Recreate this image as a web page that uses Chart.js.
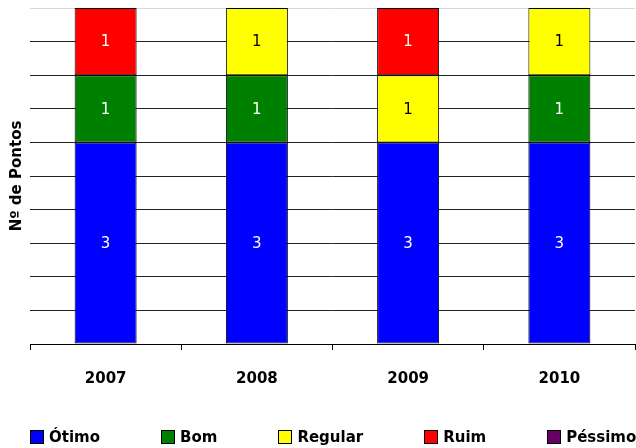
<!DOCTYPE html>
<html>
<head>
<meta charset="utf-8">
<script src="https://cdn.jsdelivr.net/npm/chart.js@4/dist/chart.umd.min.js"></script>
<style>
  html, body { margin: 0; padding: 0; background: #fff; }
  #wrap { position: relative; width: 636px; height: 448px; }
  #legend {
    position: absolute; left: 30px; top: 427px; height: 20px;
    display: flex; align-items: center;
    font: bold 15px "DejaVu Sans", sans-serif; color: #000; white-space: nowrap;
  }
  #legend .item { display: flex; align-items: center; margin-right: 61px; }
  #legend .box { width: 12px; height: 12px; border: 1px solid #000; margin-right: 5px; }
</style>
</head>
<body>
<div id="wrap">
  <canvas id="chart" width="636" height="448"></canvas>
  <div id="legend"></div>
</div>
<script>
const years = ['2007', '2008', '2009', '2010'];
const otimo = [3, 3, 3, 3];
const bom = [1, 1, 0, 1];
const regular = [0, 1, 1, 1];
const ruim = [1, 0, 1, 0];
const pessimo = [0, 0, 0, 0];

const FONT = '"DejaVu Sans", sans-serif';

// draws the value in the middle of each segment
const barLabels = {
    id: 'barLabels',
    afterDatasetsDraw(chart) {
        const ctx = chart.ctx;
        ctx.save();
        ctx.font = '15px ' + FONT;
        ctx.textAlign = 'center';
        ctx.textBaseline = 'middle';
        chart.data.datasets.forEach((ds, i) => {
            const meta = chart.getDatasetMeta(i);
            meta.data.forEach((bar, j) => {
                const v = ds.data[j];
                if (!v) return;
                ctx.fillStyle = ds.labelColor;
                ctx.fillText(String(v), bar.x, (bar.y + bar.base) / 2 + 1);
            });
        });
        ctx.restore();
    }
};

function series(label, data, color, labelColor) {
    return {
        label: label,
        data: data,
        backgroundColor: color,
        borderColor: '#000',
        borderWidth: 1,
        borderSkipped: false,
        barPercentage: 0.41,
        categoryPercentage: 1.0,
        labelColor: labelColor
    };
}

const chart = new Chart(document.getElementById('chart').getContext('2d'), {
    type: 'bar',
    data: {
        labels: years,
        datasets: [
            series('Ótimo', otimo, '#0000ff', '#fff'),
            series('Bom', bom, '#008000', '#fff'),
            series('Regular', regular, '#ffff00', '#000'),
            series('Ruim', ruim, '#ff0000', '#fff'),
            series('Péssimo', pessimo, '#660066', '#fff')
        ]
    },
    options: {
        responsive: false,
        animation: false,
        layout: { padding: { top: 8, right: 1, left: 4, bottom: 40 } },
        scales: {
            x: {
                stacked: true,
                offset: true,
                border: { display: true, color: '#000', width: 1 },
                grid: { offset: true, drawOnChartArea: false, tickLength: 6, color: '#000' },
                ticks: { color: '#000', font: { family: FONT, size: 15, weight: 'bold' }, padding: 20 }
            },
            y: {
                stacked: true,
                min: 0,
                max: 5,
                border: { display: false },
                grid: {
                    tickLength: 0,
                    color: (c) => c.tick && c.tick.value === 5 ? '#d9d9d9' : '#222'
                },
                ticks: { display: false, stepSize: 0.5 },
                title: {
                    display: true,
                    text: 'Nº de Pontos',
                    color: '#000',
                    font: { family: FONT, size: 15, weight: 'bold' },
                    padding: { top: 4, bottom: 4 }
                }
            }
        },
        plugins: {
            legend: { display: false },
            tooltip: { enabled: false }
        }
    },
    plugins: [barLabels]
});

// legend built from the datasets
const legendEl = document.getElementById('legend');
chart.data.datasets.forEach(ds => {
    const item = document.createElement('div');
    item.className = 'item';
    const box = document.createElement('span');
    box.className = 'box';
    box.style.background = ds.backgroundColor;
    const txt = document.createElement('span');
    txt.textContent = ds.label;
    item.appendChild(box);
    item.appendChild(txt);
    legendEl.appendChild(item);
});
</script>
</body>
</html>
